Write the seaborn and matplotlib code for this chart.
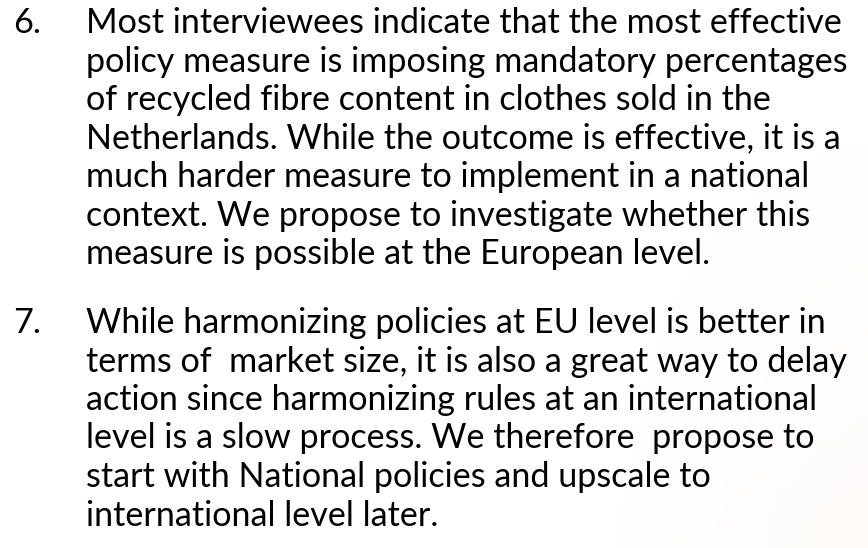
import matplotlib
matplotlib.use("Agg")
import matplotlib.pyplot as plt
import numpy as np
import seaborn as sns

# slide text, one entry per line as it wraps on the slide
numbers = ["6.", "7."]
para_6 = [
    "Most interviewees indicate that the most effective",
    "policy measure is imposing mandatory percentages",
    "of recycled fibre content in clothes sold in the",
    "Netherlands. While the outcome is effective, it is a",
    "much harder measure to implement in a national",
    "context. We propose to investigate whether this",
    "measure is possible at the European level.",
]
para_7 = [
    "While harmonizing policies at EU level is better in",
    "terms of  market size, it is also a great way to delay",
    "action since harmonizing rules at an international",
    "level is a slow process. We therefore  propose to",
    "start with National policies and upscale to",
    "international level later.",
]

sns.set_theme(style="white")
plt.rcParams['font.family'] = ['Lato', 'DejaVu Sans']

W, H = 868, 548
fig = plt.figure(figsize=(W / 100, H / 100), dpi=100)
fig.patch.set_facecolor("white")
ax = fig.add_axes([0, 0, 1, 1])
ax.set_xlim(0, W)
ax.set_ylim(H, 0)
ax.axis("off")

# faint warm glow in the bottom right corner of the slide background
yy, xx = np.mgrid[0:H, 0:W]
pink = np.exp(-(((xx - 900) / 160.0) ** 2 + ((yy - 470) / 200.0) ** 2))
yellow = np.exp(-(((xx - 880) / 140.0) ** 2 + ((yy - 570) / 80.0) ** 2))
img = np.ones((H, W, 4))
img[..., 0] = 0.98
img[..., 1] = 0.80 + 0.12 * yellow / (pink + yellow + 1e-9)
img[..., 2] = 0.78 - 0.10 * yellow / (pink + yellow + 1e-9)
img[..., 3] = np.clip(0.06 * pink + 0.07 * yellow, 0, 0.10)
ax.imshow(img, extent=(0, W, H, 0), aspect="auto", zorder=0)

# pick the font size so the longest wrapped line spans like the slide text
renderer = fig.canvas.get_renderer()
probe = ax.text(0, 0, para_6[1], fontsize=20)
w_px = probe.get_window_extent(renderer).width
probe.remove()
fs = 20 * 763.0 / w_px

num_x, text_x = 13, 86
line_gap = 38.5
starts = [33, 333]

for num, lines, y0 in zip(numbers, [para_6, para_7], starts):
    ax.text(num_x, y0, num, fontsize=fs, color="black", va="baseline", ha="left", zorder=2)
    for i, line in enumerate(lines):
        ax.text(text_x, y0 + i * line_gap, line, fontsize=fs, color="black",
                va="baseline", ha="left", zorder=2)

fig.savefig("out.png", dpi=100, facecolor="white")
